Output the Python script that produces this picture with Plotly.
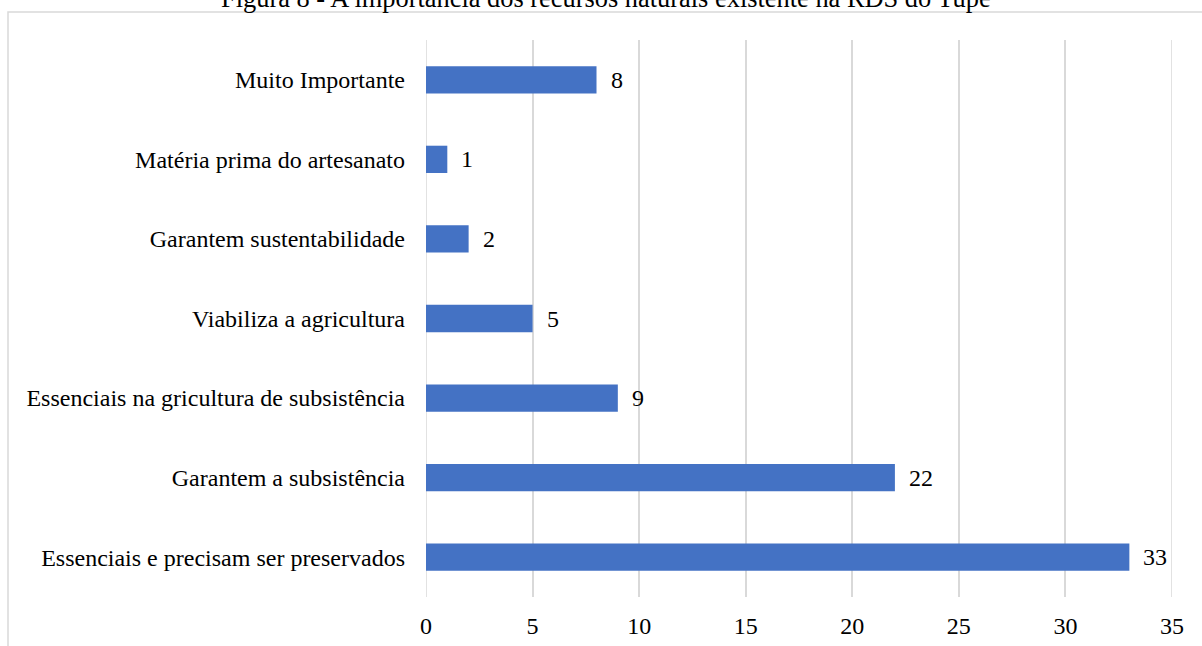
import plotly.graph_objects as go

categories = [
    "Essenciais e precisam ser preservados",
    "Garantem a subsistência",
    "Essenciais na gricultura de subsistência",
    "Viabiliza a agricultura",
    "Garantem sustentabilidade",
    "Matéria prima do artesanato",
    "Muito Importante",
]
values = [33, 22, 9, 5, 2, 1, 8]
x_ticks = [0, 5, 10, 15, 20, 25, 30, 35]
title_text = "Figura 8 - A importância dos recursos naturais existente na RDS do Tupé"

W, H = 1202, 646
L, R, T, B = 426, 30, 40, 49
FONT = "Liberation Serif, Times New Roman, serif"
FS = 24
GRID = "#d9d9d9"
pw, ph = W - L - R, H - T - B

def px_x(p):
    return (p - L) / pw

def px_y(p):
    return (H - B - p) / ph

fig = go.Figure()

# edge gridlines (0 and 35) which plotly culls at the range boundaries
for t in (x_ticks[0], x_ticks[-1]):
    fig.add_shape(type="line", xref="x", yref="paper", x0=t, x1=t, y0=0, y1=1,
                  line=dict(color=GRID, width=1.5), layer="below")

fig.add_trace(go.Bar(
    x=values, y=categories, orientation="h",
    marker=dict(color="#4472C4", line=dict(width=0)),
    hoverinfo="skip",
))

for v, c in zip(values, categories):
    fig.add_annotation(x=v, y=c, xref="x", yref="y", text=str(v),
                       showarrow=False, xanchor="left", yanchor="middle",
                       xshift=12, font=dict(family=FONT, size=FS, color="#000000"))

# title (partially cut off at top)
fig.add_annotation(x=px_x(606), y=px_y(15), xref="paper", yref="paper",
                   text=title_text, showarrow=False, xanchor="center", yanchor="bottom",
                   font=dict(family=FONT, size=26.4, color="#000000"))

# chart-area border
fig.add_shape(type="rect", xref="paper", yref="paper",
              x0=px_x(8), x1=px_x(1220), y0=px_y(660), y1=px_y(12),
              line=dict(color=GRID, width=1.5), fillcolor="rgba(0,0,0,0)", layer="below")

fig.update_layout(
    width=W, height=H,
    margin=dict(l=L, r=R, t=T, b=B, pad=0, autoexpand=False),
    paper_bgcolor="white", plot_bgcolor="white",
    bargap=0.657,
    showlegend=False,
    font=dict(family=FONT, size=FS, color="#000000"),
    xaxis=dict(range=[0, 35], tickvals=x_ticks, showgrid=True, gridcolor=GRID,
               gridwidth=1.5, zeroline=False, showline=False, ticks="",
               ticklabelstandoff=12, automargin=False,
               tickfont=dict(family=FONT, size=FS, color="#000000"),
               fixedrange=True),
    yaxis=dict(categoryorder="array", categoryarray=categories, showgrid=False,
               zeroline=False, showline=False, ticks="", ticklabelstandoff=20,
               automargin=False,
               tickfont=dict(family=FONT, size=FS, color="#000000"), fixedrange=True),
)

fig.write_html("out.html")
